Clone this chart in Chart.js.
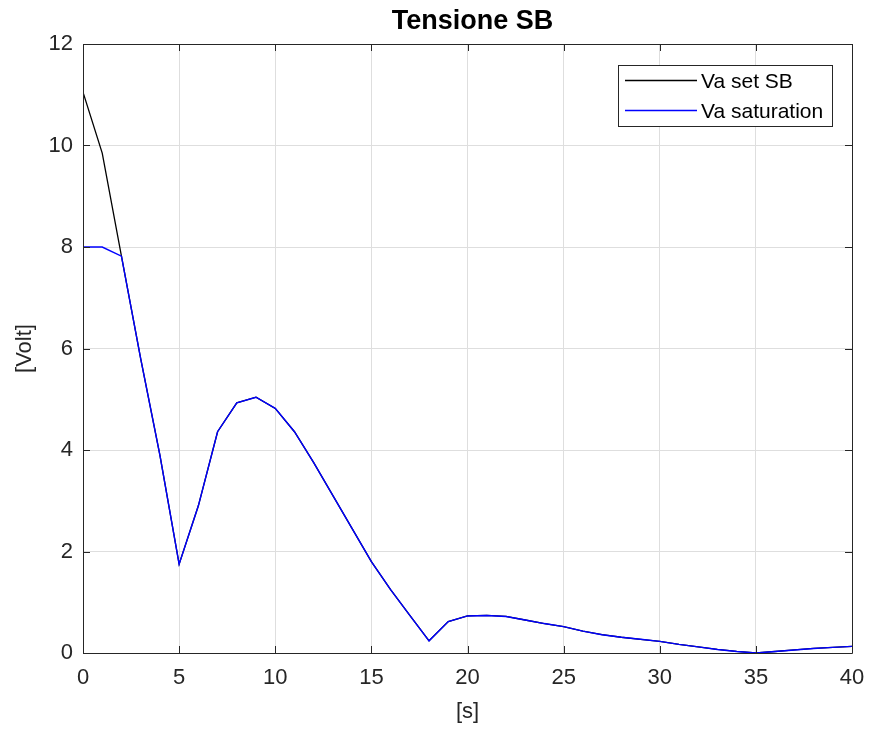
<!DOCTYPE html>
<html>
<head>
<meta charset="utf-8">
<script src="https://cdn.jsdelivr.net/npm/chart.js@4.4.1/dist/chart.umd.min.js"></script>
<style>
  html, body { margin: 0; padding: 0; background: #fff; }
  #wrap { width: 871px; height: 732px; }
</style>
</head>
<body>
<div id="wrap"><canvas id="chartTensione" width="871" height="732"></canvas></div>
<script>
(function () {

// ── data ──────────────────────────────────────────────────────────────────
var timeSec = [0, 1, 2, 3, 4, 5, 6, 7, 8, 9, 10, 11, 12, 13, 14, 15, 16, 17, 18, 19, 20,
               21, 22, 23, 24, 25, 26, 27, 28, 29, 30, 31, 32, 33, 34, 35, 36, 37, 38, 39, 40];
var vaSaturation = [8.0, 8.0, 7.82, 5.8, 3.9, 1.75, 2.9, 4.36, 4.93, 5.04, 4.82, 4.36, 3.75, 3.1, 2.45, 1.8,
                    1.25, 0.74, 0.24, 0.62, 0.73, 0.74, 0.72, 0.65, 0.58, 0.52, 0.43, 0.36, 0.31, 0.27, 0.23,
                    0.17, 0.12, 0.07, 0.03, 0.0, 0.03, 0.06, 0.09, 0.11, 0.13];
var vaSetSB = [11.05, 9.85, 7.82, 5.8, 3.9, 1.75, 2.9, 4.36, 4.93, 5.04, 4.82, 4.36, 3.75, 3.1, 2.45, 1.8,
               1.25, 0.74, 0.24, 0.62, 0.73, 0.74, 0.72, 0.65, 0.58, 0.52, 0.43, 0.36, 0.31, 0.27, 0.23,
               0.17, 0.12, 0.07, 0.03, 0.0, 0.03, 0.06, 0.09, 0.11, 0.13];
var xTicks = [0, 5, 10, 15, 20, 25, 30, 35, 40];
var yTicks = [0, 2, 4, 6, 8, 10, 12];
var seriesLabels = ['Va set SB', 'Va saturation'];
var titleText = 'Tensione SB';
var xTitle = '[s]';
var yTitle = '[Volt]';

var FONT = '"Liberation Sans", Arial, Helvetica, sans-serif';
var AXIS = '#262626';

function pts(xs, ys) {
    return xs.map(function (x, i) { return { x: x, y: ys[i] }; });
}

// ── box, inward ticks, titles and legend (MATLAB look) ───────────────────
var matlabFrame = {
    id: 'matlabFrame',
    afterDatasetsDraw: function (chart) {
        var ctx = chart.ctx, a = chart.chartArea;
        var xs = chart.scales.x, ys = chart.scales.y;
        var tl = 7;
        ctx.save();
        ctx.strokeStyle = AXIS;
        ctx.lineWidth = 1;
        ctx.beginPath();
        ctx.rect(Math.round(a.left) + 0.5, Math.round(a.top) + 0.5,
                 Math.round(a.right - a.left), Math.round(a.bottom - a.top));
        xTicks.forEach(function (v) {
            var px = Math.round(xs.getPixelForValue(v)) + 0.5;
            ctx.moveTo(px, a.bottom); ctx.lineTo(px, a.bottom - tl);
            ctx.moveTo(px, a.top); ctx.lineTo(px, a.top + tl);
        });
        yTicks.forEach(function (v) {
            var py = Math.round(ys.getPixelForValue(v)) + 0.5;
            ctx.moveTo(a.left, py); ctx.lineTo(a.left + tl, py);
            ctx.moveTo(a.right, py); ctx.lineTo(a.right - tl, py);
        });
        ctx.stroke();

        // titles
        ctx.fillStyle = '#000';
        ctx.textAlign = 'center';
        ctx.textBaseline = 'middle';
        ctx.font = 'bold 27px ' + FONT;
        ctx.fillText(titleText, (a.left + a.right) / 2 + 5, 22);
        ctx.fillStyle = AXIS;
        ctx.font = '22px ' + FONT;
        ctx.fillText(xTitle, (a.left + a.right) / 2, 712);
        ctx.translate(25, (a.top + a.bottom) / 2);
        ctx.rotate(-Math.PI / 2);
        ctx.fillText(yTitle, 0, 0);
        ctx.setTransform(1, 0, 0, 1, 0, 0);

        // legend box
        var lx = 618, ly = 65, lw = 214, lh = 61;
        ctx.fillStyle = '#fff';
        ctx.fillRect(lx, ly, lw, lh);
        ctx.strokeStyle = AXIS;
        ctx.lineWidth = 1;
        ctx.strokeRect(lx + 0.5, ly + 0.5, lw, lh);
        ctx.font = '21px ' + FONT;
        ctx.textAlign = 'left';
        ctx.textBaseline = 'middle';
        chart.data.datasets.forEach(function (ds, i) {
            var y = ly + 15 + i * 30;
            ctx.strokeStyle = ds.borderColor;
            ctx.lineWidth = 1.3;
            ctx.beginPath();
            ctx.moveTo(625, y + 0.5); ctx.lineTo(697, y + 0.5);
            ctx.stroke();
            ctx.fillStyle = '#000';
            ctx.fillText(ds.label, 701, y + 2);
        });
        ctx.restore();
    }
};

new Chart(document.getElementById('chartTensione'), {
    type: 'line',
    data: {
        datasets: [{
            label: seriesLabels[0],
            data: pts(timeSec, vaSetSB),
            borderColor: '#000000',
            borderWidth: 1.3,
            pointRadius: 0,
            tension: 0,
            fill: false,
            order: 2
        }, {
            label: seriesLabels[1],
            data: pts(timeSec, vaSaturation),
            borderColor: '#0000ff',
            borderWidth: 1.4,
            pointRadius: 0,
            tension: 0,
            fill: false,
            order: 1
        }]
    },
    options: {
        responsive: false,
        animation: false,
        devicePixelRatio: 1,
        layout: { padding: { top: 44, right: 19, left: 0, bottom: 0 } },
        plugins: {
            legend: { display: false },
            title: { display: false },
            tooltip: { enabled: false }
        },
        scales: {
            x: {
                type: 'linear',
                min: 0, max: 40,
                afterBuildTicks: function (s) { s.ticks = xTicks.map(function (v) { return { value: v }; }); },
                afterFit: function (s) { s.height = 79; s.paddingLeft = 0; s.paddingRight = 0; },
                grid: { color: '#dedede', lineWidth: 1, drawTicks: false },
                border: { display: false },
                ticks: { color: AXIS, font: { family: FONT, size: 22 }, padding: 12, maxRotation: 0 }
            },
            y: {
                type: 'linear',
                min: 0, max: 12,
                afterBuildTicks: function (s) { s.ticks = yTicks.map(function (v) { return { value: v }; }); },
                afterFit: function (s) { s.width = 83; s.paddingTop = 0; s.paddingBottom = 0; },
                grid: { color: '#dedede', lineWidth: 1, drawTicks: false },
                border: { display: false },
                ticks: { color: AXIS, font: { family: FONT, size: 22 }, padding: 10 }
            }
        }
    },
    plugins: [matlabFrame]
});

}());
</script>
</body>
</html>
